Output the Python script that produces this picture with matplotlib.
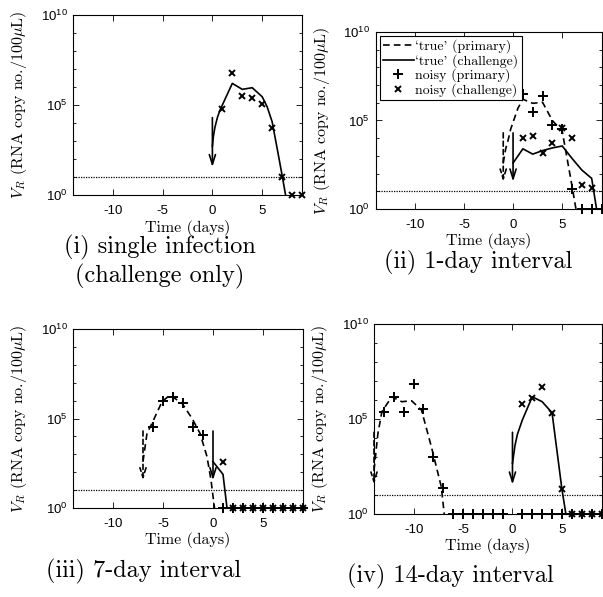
import numpy as np
import matplotlib
matplotlib.use("Agg")
import matplotlib.pyplot as plt
from matplotlib.ticker import FixedLocator, FixedFormatter, NullFormatter

plt.rcParams['mathtext.fontset'] = 'cm'
plt.rcParams['axes.unicode_minus'] = False
plt.rcParams['axes.formatter.use_mathtext'] = True

# ---------------- data (log10 of V_R) ----------------
detection_limit = 10.0

# (i) single infection (challenge only)
i_true_pr_t = []
i_true_pr_log = []
i_true_ch_t = [0, 0.1, 0.25, 0.5, 0.75, 1, 2, 3, 4, 5, 5.5, 6, 6.5, 7, 7.35]
i_true_ch_log = [2.7, 3.25, 3.75, 4.3, 4.7, 5.0, 6.2, 5.87, 5.96, 5.46, 4.9, 4.07, 2.6, 1.1, 0]
i_noisy_pr_t = []
i_noisy_pr_log = []
i_noisy_ch_t = [1, 2, 3, 4, 5, 6, 7, 8, 9]
i_noisy_ch_log = [4.78, 6.8, 5.52, 5.37, 5.04, 3.74, 1.02, 0, 0]
i_arrow_pr = []
i_arrow_ch = [0]

# (ii) 1-day interval
ii_true_pr_t = [-1, -0.75, -0.5, -0.25, 0, 0.5, 1, 2, 3, 4, 5, 6, 6.4]
ii_true_pr_log = [2.6, 3.4, 3.9, 4.5, 4.9, 5.7, 6.2, 5.97, 6.03, 5.0, 4.4, 1.3, 0]
ii_true_ch_t = [0, 1, 2, 3, 4, 5, 6, 7, 8, 8.5]
ii_true_ch_log = [2.6, 3.4, 3.1, 3.3, 3.45, 3.56, 2.86, 2.2, 1.73, 0]
ii_noisy_pr_t = [1, 2, 3, 4, 5, 6, 7, 8, 9]
ii_noisy_pr_log = [6.5, 5.5, 6.4, 4.75, 4.5, 1.11, 0, 0, 0]
ii_noisy_ch_t = [1, 2, 3, 4, 5, 6, 7, 8]
ii_noisy_ch_log = [4.03, 4.12, 3.15, 3.71, 4.56, 4.03, 1.36, 1.2]
ii_arrow_pr = [-1]
ii_arrow_ch = [0]

# (iii) 7-day interval
iii_true_pr_t = [-7, -6.6, -6.1, -5.1, -4.3, -3.1, -2.1, -1.3, -0.6, -0.2, 0.15]
iii_true_pr_log = [2.6, 4.17, 4.73, 5.94, 6.31, 5.85, 5.01, 4.17, 2.87, 1.56, 0]
iii_true_ch_t = [0, 1, 1.4]
iii_true_ch_log = [2.59, 1.88, 0]
iii_noisy_pr_t = [-6, -5, -4, -3, -2, -1, 1, 2, 3, 4, 5, 6, 7, 8, 9]
iii_noisy_pr_log = [4.5, 5.98, 6.22, 5.85, 4.54, 4.08, 0, 0, 0, 0, 0, 0, 0, 0, 0]
iii_noisy_ch_t = [1, 2, 3, 4, 5, 6, 7, 8, 9]
iii_noisy_ch_log = [2.59, 0, 0, 0, 0, 0, 0, 0, 0]
iii_arrow_pr = [-7]
iii_arrow_ch = [0]

# (iv) 14-day interval
iv_true_pr_t = [-14, -13.6, -13.2, -12.2, -11.2, -10.2, -9.2, -8.2, -7.2, -6.9]
iv_true_pr_log = [2.3, 4.25, 5.39, 6.17, 5.91, 5.96, 5.47, 3.54, 1.44, 0]
iv_true_ch_t = [0, 0.25, 0.5, 1, 2, 3, 4, 5, 5.4]
iv_true_ch_log = [2.67, 3.6, 4.2, 4.95, 6.17, 5.91, 5.33, 1.3, 0]
iv_noisy_pr_t = [-13, -12, -11, -10, -9, -8, -7, -6, -5, -4, -3, -2, -1,
                 1, 2, 3, 4, 5, 6, 7, 8, 9]
iv_noisy_pr_log = [5.36, 6.15, 5.36, 6.84, 5.53, 2.98, 1.39, 0, 0, 0, 0, 0, 0,
                   0, 0, 0, 0, 0, 0, 0, 0, 0]
iv_noisy_ch_t = [1, 2, 3, 4, 5, 6, 7, 8, 9]
iv_noisy_ch_log = [5.77, 6.09, 6.7, 5.3, 1.3, 0, 0, 0, 0]
iv_arrow_pr = [-14]
iv_arrow_ch = [0]

arrow_top_log = 4.3
arrow_tip_log = 1.55

x_ticks = [-10, -5, 0, 5]
x_tick_labels = ['-10', '-5', '0', '5']
y_ticks = [1e0, 1e5, 1e10]
y_tick_labels = [r'$\mathregular{10^{0}}$', r'$\mathregular{10^{5}}$', r'$\mathregular{10^{10}}$']

titles = ['(i) single infection\n(challenge only)', '(ii) 1-day interval',
          '(iii) 7-day interval', '(iv) 14-day interval']
legend_labels = ["`true' (primary)", "`true' (challenge)", 'noisy (primary)', 'noisy (challenge)']

# ---------------- layout ----------------
W, H = 603, 597
fig = plt.figure(figsize=(W / 100, H / 100), dpi=100)

def add_ax(left, top, right, bottom):
    return fig.add_axes([left / W, 1 - bottom / H, (right - left) / W, (bottom - top) / H])

boxes = [(73, 15, 302, 195), (375.5, 32, 601.5, 209), (73, 329, 303, 508), (374, 324, 601.5, 514)]
title_pos = [(160, 262), (478, 262), (144, 571), (450, 576)]

panels = [
    (i_true_pr_t, i_true_pr_log, i_true_ch_t, i_true_ch_log, i_noisy_pr_t, i_noisy_pr_log, i_noisy_ch_t, i_noisy_ch_log, i_arrow_pr, i_arrow_ch),
    (ii_true_pr_t, ii_true_pr_log, ii_true_ch_t, ii_true_ch_log, ii_noisy_pr_t, ii_noisy_pr_log, ii_noisy_ch_t, ii_noisy_ch_log, ii_arrow_pr, ii_arrow_ch),
    (iii_true_pr_t, iii_true_pr_log, iii_true_ch_t, iii_true_ch_log, iii_noisy_pr_t, iii_noisy_pr_log, iii_noisy_ch_t, iii_noisy_ch_log, iii_arrow_pr, iii_arrow_ch),
    (iv_true_pr_t, iv_true_pr_log, iv_true_ch_t, iv_true_ch_log, iv_noisy_pr_t, iv_noisy_pr_log, iv_noisy_ch_t, iv_noisy_ch_log, iv_arrow_pr, iv_arrow_ch),
]

serif = 'cmr10'
sans = 'Liberation Sans'

for k, (box, data) in enumerate(zip(boxes, panels)):
    tp_t, tp_v, tc_t, tc_v, np_t, np_v, nc_t, nc_v, a_pr, a_ch = data
    ax = add_ax(*box)
    ax.set_xlim(-14, 9)
    ax.set_yscale('log')
    ax.set_ylim(1, 1e10)

    ax.axhline(detection_limit, color='black', lw=0.9, ls=(0, (1, 1)))
    h1, = ax.plot(tp_t, 10 ** np.array(tp_v, dtype=float), color='black', lw=1.2, ls=(0, (4, 2.5)))
    h2, = ax.plot(tc_t, 10 ** np.array(tc_v, dtype=float), color='black', lw=1.2, ls='-')
    h3, = ax.plot(np_t, 10 ** np.array(np_v, dtype=float), ls='none', marker='+', ms=7,
                  mew=1.4, color='black', clip_on=False)
    h4, = ax.plot(nc_t, 10 ** np.array(nc_v, dtype=float), ls='none', marker='x', ms=5,
                  mew=1.4, color='black', clip_on=False)

    for t in a_pr:
        ax.annotate('', xy=(t, 10 ** arrow_tip_log), xytext=(t, 10 ** arrow_top_log),
                    arrowprops=dict(arrowstyle='->,head_length=0.7,head_width=0.22',
                                    color='black', lw=1.2, ls=(0, (3, 2)), shrinkA=0, shrinkB=0))
    for t in a_ch:
        ax.annotate('', xy=(t, 10 ** arrow_tip_log), xytext=(t, 10 ** arrow_top_log),
                    arrowprops=dict(arrowstyle='->,head_length=0.7,head_width=0.22',
                                    color='black', lw=1.2, shrinkA=0, shrinkB=0))

    ax.xaxis.set_major_locator(FixedLocator(x_ticks))
    ax.xaxis.set_major_formatter(FixedFormatter(x_tick_labels))
    ax.yaxis.set_major_locator(FixedLocator(y_ticks))
    ax.yaxis.set_major_formatter(FixedFormatter(y_tick_labels))
    ax.yaxis.set_minor_locator(FixedLocator([10.0 ** e for e in range(0, 11)]))
    ax.yaxis.set_minor_formatter(NullFormatter())
    ax.tick_params(which='both', direction='in', top=True, right=True, color='black')
    ax.tick_params(which='major', length=4, width=0.6, labelsize=9.5)
    ax.tick_params(axis='x', which='major', pad=7)
    ax.tick_params(axis='y', which='major', pad=4)
    ax.tick_params(which='minor', length=2.5, width=0.6)
    for lab in ax.get_xticklabels() + ax.get_yticklabels():
        lab.set_fontfamily(sans)
    for s in ax.spines.values():
        s.set_linewidth(0.8)

    ax.set_xlabel('Time (days)', fontfamily=serif, fontsize=11.5, labelpad=2)
    ax.set_ylabel(r'$V_R$ (RNA copy no./100$\mu$L)', fontfamily=serif, fontsize=11.5, labelpad=8)

    if k == 1:
        leg = ax.legend([h1, h2, h3, h4], legend_labels,
                        loc='upper left', prop={'family': serif, 'size': 10}, frameon=True,
                        fancybox=False, edgecolor='black', framealpha=1, borderaxespad=0.3,
                        handlelength=2.2, handletextpad=0.1, labelspacing=0.05, borderpad=0.25)
        leg.get_frame().set_linewidth(0.8)

    tx, ty = title_pos[k]
    fig.text(tx / W, 1 - ty / H, titles[k], ha='center', va='center', fontfamily=serif,
             fontsize=17.5, linespacing=1.2)

fig.savefig('out.png', dpi=100)
